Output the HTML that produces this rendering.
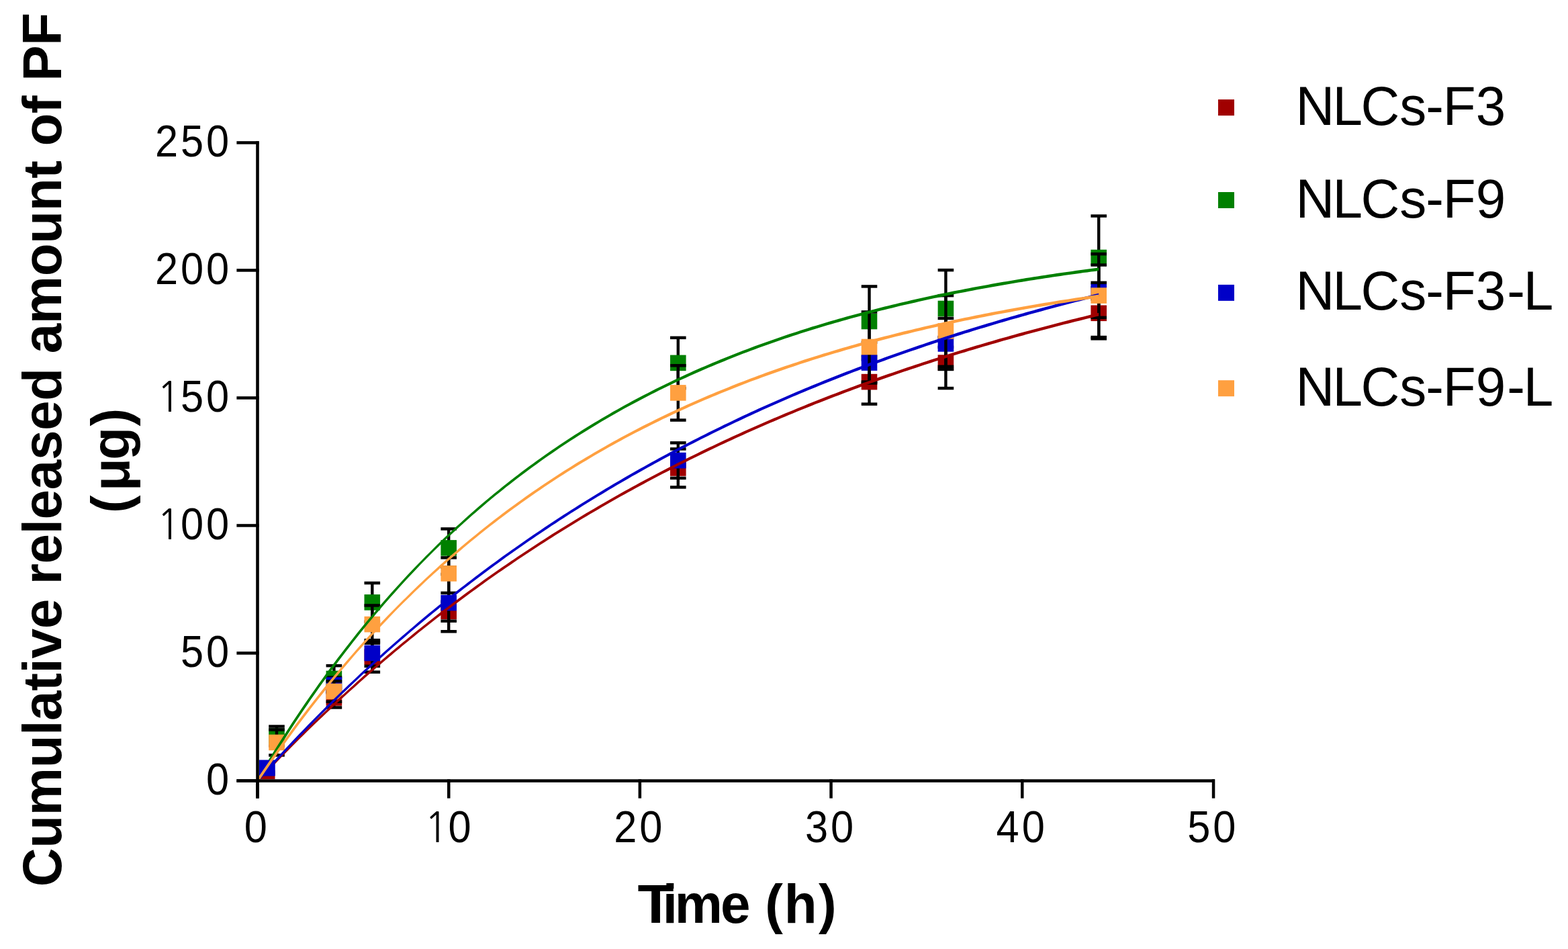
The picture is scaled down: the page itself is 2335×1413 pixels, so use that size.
<!DOCTYPE html>
<html><head><meta charset="utf-8"><title>Cumulative release</title>
<style>html,body{margin:0;padding:0;background:#fff;}body{width:2335px;height:1413px;overflow:hidden;}svg{display:block;}</style>
</head><body>
<svg width="2335" height="1413" viewBox="0 0 2335 1413">
<defs><clipPath id="plot"><rect x="383" y="0" width="1500" height="1160.3"/></clipPath></defs>
<g clip-path="url(#plot)">
<rect x="385.9" y="1146.9" width="23.6" height="23.6" fill="#a00000"/>
<rect x="495.2" y="1024.6" width="4.4" height="28.9" fill="#000"/>
<rect x="485.6" y="1022.3" width="23.6" height="4.5" fill="#000"/>
<rect x="485.6" y="1051.2" width="23.6" height="4.5" fill="#000"/>
<rect x="485.6" y="1027.2" width="23.6" height="23.6" fill="#a00000"/>
<rect x="552.1" y="955.8" width="4.4" height="44.8" fill="#000"/>
<rect x="542.5" y="953.5" width="23.6" height="4.5" fill="#000"/>
<rect x="542.5" y="998.4" width="23.6" height="4.5" fill="#000"/>
<rect x="542.5" y="966.4" width="23.6" height="23.6" fill="#a00000"/>
<rect x="666.0" y="895.7" width="4.4" height="28.9" fill="#000"/>
<rect x="656.4" y="893.5" width="23.6" height="4.5" fill="#000"/>
<rect x="656.4" y="922.4" width="23.6" height="4.5" fill="#000"/>
<rect x="656.4" y="898.4" width="23.6" height="23.6" fill="#a00000"/>
<rect x="1007.6" y="668.5" width="4.4" height="57.0" fill="#000"/>
<rect x="998.0" y="666.2" width="23.6" height="4.5" fill="#000"/>
<rect x="998.0" y="723.2" width="23.6" height="4.5" fill="#000"/>
<rect x="998.0" y="685.2" width="23.6" height="23.6" fill="#a00000"/>
<rect x="1292.3" y="535.5" width="4.4" height="66.1" fill="#000"/>
<rect x="1282.7" y="533.2" width="23.6" height="4.5" fill="#000"/>
<rect x="1282.7" y="599.4" width="23.6" height="4.5" fill="#000"/>
<rect x="1282.7" y="556.8" width="23.6" height="23.6" fill="#a00000"/>
<rect x="1406.2" y="502.1" width="4.4" height="76.0" fill="#000"/>
<rect x="1396.6" y="499.8" width="23.6" height="4.5" fill="#000"/>
<rect x="1396.6" y="575.8" width="23.6" height="4.5" fill="#000"/>
<rect x="1396.6" y="528.3" width="23.6" height="23.6" fill="#a00000"/>
<rect x="1634.0" y="428.3" width="4.4" height="76.0" fill="#000"/>
<rect x="1624.4" y="426.1" width="23.6" height="4.5" fill="#000"/>
<rect x="1624.4" y="502.1" width="23.6" height="4.5" fill="#000"/>
<rect x="1624.4" y="454.5" width="23.6" height="23.6" fill="#a00000"/>
<rect x="409.8" y="1081.6" width="4.4" height="28.9" fill="#000"/>
<rect x="400.2" y="1079.3" width="23.6" height="4.5" fill="#000"/>
<rect x="400.2" y="1108.2" width="23.6" height="4.5" fill="#000"/>
<rect x="400.2" y="1084.2" width="23.6" height="23.6" fill="#008000"/>
<rect x="495.2" y="991.1" width="4.4" height="38.8" fill="#000"/>
<rect x="485.6" y="988.9" width="23.6" height="4.5" fill="#000"/>
<rect x="485.6" y="1027.6" width="23.6" height="4.5" fill="#000"/>
<rect x="485.6" y="998.7" width="23.6" height="23.6" fill="#008000"/>
<rect x="552.1" y="868.0" width="4.4" height="57.8" fill="#000"/>
<rect x="542.5" y="865.8" width="23.6" height="4.5" fill="#000"/>
<rect x="542.5" y="923.5" width="23.6" height="4.5" fill="#000"/>
<rect x="542.5" y="885.1" width="23.6" height="23.6" fill="#008000"/>
<rect x="666.0" y="787.4" width="4.4" height="57.0" fill="#000"/>
<rect x="656.4" y="785.2" width="23.6" height="4.5" fill="#000"/>
<rect x="656.4" y="842.2" width="23.6" height="4.5" fill="#000"/>
<rect x="656.4" y="804.1" width="23.6" height="23.6" fill="#008000"/>
<rect x="1007.6" y="502.8" width="4.4" height="75.2" fill="#000"/>
<rect x="998.0" y="500.6" width="23.6" height="4.5" fill="#000"/>
<rect x="998.0" y="575.8" width="23.6" height="4.5" fill="#000"/>
<rect x="998.0" y="528.6" width="23.6" height="23.6" fill="#008000"/>
<rect x="1292.3" y="426.4" width="4.4" height="104.1" fill="#000"/>
<rect x="1282.7" y="424.2" width="23.6" height="4.5" fill="#000"/>
<rect x="1282.7" y="528.3" width="23.6" height="4.5" fill="#000"/>
<rect x="1282.7" y="466.7" width="23.6" height="23.6" fill="#008000"/>
<rect x="1406.2" y="402.1" width="4.4" height="114.8" fill="#000"/>
<rect x="1396.6" y="399.9" width="23.6" height="4.5" fill="#000"/>
<rect x="1396.6" y="514.6" width="23.6" height="4.5" fill="#000"/>
<rect x="1396.6" y="447.7" width="23.6" height="23.6" fill="#008000"/>
<rect x="1634.0" y="321.6" width="4.4" height="123.9" fill="#000"/>
<rect x="1624.4" y="319.3" width="23.6" height="4.5" fill="#000"/>
<rect x="1624.4" y="443.2" width="23.6" height="4.5" fill="#000"/>
<rect x="1624.4" y="371.7" width="23.6" height="23.6" fill="#008000"/>
<rect x="385.9" y="1131.7" width="23.6" height="23.6" fill="#0000c8"/>
<rect x="495.2" y="1008.6" width="4.4" height="22.8" fill="#000"/>
<rect x="485.6" y="1006.4" width="23.6" height="4.5" fill="#000"/>
<rect x="485.6" y="1029.2" width="23.6" height="4.5" fill="#000"/>
<rect x="485.6" y="1008.2" width="23.6" height="23.6" fill="#0000c8"/>
<rect x="552.1" y="953.1" width="4.4" height="38.8" fill="#000"/>
<rect x="542.5" y="950.9" width="23.6" height="4.5" fill="#000"/>
<rect x="542.5" y="989.6" width="23.6" height="4.5" fill="#000"/>
<rect x="542.5" y="960.7" width="23.6" height="23.6" fill="#0000c8"/>
<rect x="666.0" y="855.1" width="4.4" height="85.1" fill="#000"/>
<rect x="656.4" y="852.8" width="23.6" height="4.5" fill="#000"/>
<rect x="656.4" y="938.0" width="23.6" height="4.5" fill="#000"/>
<rect x="656.4" y="885.8" width="23.6" height="23.6" fill="#0000c8"/>
<rect x="1007.6" y="659.4" width="4.4" height="52.4" fill="#000"/>
<rect x="998.0" y="657.1" width="23.6" height="4.5" fill="#000"/>
<rect x="998.0" y="709.6" width="23.6" height="4.5" fill="#000"/>
<rect x="998.0" y="673.8" width="23.6" height="23.6" fill="#0000c8"/>
<rect x="1292.3" y="509.7" width="4.4" height="60.8" fill="#000"/>
<rect x="1282.7" y="507.4" width="23.6" height="4.5" fill="#000"/>
<rect x="1282.7" y="568.2" width="23.6" height="4.5" fill="#000"/>
<rect x="1282.7" y="528.3" width="23.6" height="23.6" fill="#0000c8"/>
<rect x="1406.2" y="473.9" width="4.4" height="76.0" fill="#000"/>
<rect x="1396.6" y="471.7" width="23.6" height="4.5" fill="#000"/>
<rect x="1396.6" y="547.7" width="23.6" height="4.5" fill="#000"/>
<rect x="1396.6" y="500.1" width="23.6" height="23.6" fill="#0000c8"/>
<rect x="1634.0" y="394.5" width="4.4" height="78.3" fill="#000"/>
<rect x="1624.4" y="392.3" width="23.6" height="4.5" fill="#000"/>
<rect x="1624.4" y="470.6" width="23.6" height="4.5" fill="#000"/>
<rect x="1624.4" y="421.9" width="23.6" height="23.6" fill="#0000c8"/>
<rect x="409.8" y="1086.5" width="4.4" height="38.0" fill="#000"/>
<rect x="400.2" y="1084.2" width="23.6" height="4.5" fill="#000"/>
<rect x="400.2" y="1122.2" width="23.6" height="4.5" fill="#000"/>
<rect x="400.2" y="1093.7" width="23.6" height="23.6" fill="#ffa040"/>
<rect x="495.2" y="1014.3" width="4.4" height="30.4" fill="#000"/>
<rect x="485.6" y="1012.0" width="23.6" height="4.5" fill="#000"/>
<rect x="485.6" y="1042.5" width="23.6" height="4.5" fill="#000"/>
<rect x="485.6" y="1017.7" width="23.6" height="23.6" fill="#ffa040"/>
<rect x="552.1" y="901.4" width="4.4" height="56.2" fill="#000"/>
<rect x="542.5" y="899.2" width="23.6" height="4.5" fill="#000"/>
<rect x="542.5" y="955.4" width="23.6" height="4.5" fill="#000"/>
<rect x="542.5" y="917.8" width="23.6" height="23.6" fill="#ffa040"/>
<rect x="666.0" y="830.4" width="4.4" height="52.4" fill="#000"/>
<rect x="656.4" y="828.1" width="23.6" height="4.5" fill="#000"/>
<rect x="656.4" y="880.6" width="23.6" height="4.5" fill="#000"/>
<rect x="656.4" y="842.1" width="23.6" height="23.6" fill="#ffa040"/>
<rect x="1007.6" y="544.2" width="4.4" height="81.3" fill="#000"/>
<rect x="998.0" y="542.0" width="23.6" height="4.5" fill="#000"/>
<rect x="998.0" y="623.3" width="23.6" height="4.5" fill="#000"/>
<rect x="998.0" y="573.1" width="23.6" height="23.6" fill="#ffa040"/>
<rect x="1292.3" y="464.4" width="4.4" height="104.1" fill="#000"/>
<rect x="1282.7" y="462.2" width="23.6" height="4.5" fill="#000"/>
<rect x="1282.7" y="566.3" width="23.6" height="4.5" fill="#000"/>
<rect x="1282.7" y="504.7" width="23.6" height="23.6" fill="#ffa040"/>
<rect x="1406.2" y="440.1" width="4.4" height="105.6" fill="#000"/>
<rect x="1396.6" y="437.9" width="23.6" height="4.5" fill="#000"/>
<rect x="1396.6" y="543.5" width="23.6" height="4.5" fill="#000"/>
<rect x="1396.6" y="481.1" width="23.6" height="23.6" fill="#ffa040"/>
<rect x="1634.0" y="378.2" width="4.4" height="123.9" fill="#000"/>
<rect x="1624.4" y="375.9" width="23.6" height="4.5" fill="#000"/>
<rect x="1624.4" y="499.8" width="23.6" height="4.5" fill="#000"/>
<rect x="1624.4" y="428.3" width="23.6" height="23.6" fill="#ffa040"/>
<rect x="1624.4" y="418.6" width="23.6" height="4.5" fill="#000"/>
</g>
<g clip-path="url(#plot)">
<polygon fill="#a00000" points="383.5,1160.0 389.2,1154.0 394.9,1148.0 400.6,1142.0 406.3,1136.1 412.0,1130.2 417.7,1124.4 423.4,1118.6 429.1,1112.8 434.7,1107.1 440.4,1101.4 446.1,1095.7 451.8,1090.1 457.5,1084.5 463.2,1079.0 468.9,1073.5 474.6,1068.0 480.3,1062.6 486.0,1057.2 491.7,1051.8 497.4,1046.5 503.1,1041.2 508.8,1035.9 514.5,1030.7 520.2,1025.5 525.9,1020.4 531.5,1015.3 537.2,1010.2 542.9,1005.1 548.6,1000.1 554.3,995.2 560.0,990.2 565.7,985.3 571.4,980.4 577.1,975.6 582.8,970.8 588.5,966.0 594.2,961.3 599.9,956.5 605.6,951.9 611.3,947.2 617.0,942.6 622.6,938.0 628.3,933.4 634.0,928.9 639.7,924.4 645.4,920.0 651.1,915.5 656.8,911.1 662.5,906.8 668.2,902.4 673.9,898.1 679.6,893.8 685.3,889.6 691.0,885.3 696.7,881.1 702.4,877.0 708.1,872.8 713.8,868.7 719.4,864.6 725.1,860.5 730.8,856.5 736.5,852.5 742.2,848.5 747.9,844.6 753.6,840.7 759.3,836.8 765.0,832.9 770.7,829.0 776.4,825.2 782.1,821.4 787.8,817.7 793.5,813.9 799.2,810.2 804.9,806.5 810.5,802.9 816.2,799.2 821.9,795.6 827.6,792.0 833.3,788.4 839.0,784.9 844.7,781.4 850.4,777.9 856.1,774.4 861.8,771.0 867.5,767.5 873.2,764.1 878.9,760.7 884.6,757.4 890.3,754.1 896.0,750.7 901.7,747.5 907.3,744.2 913.0,740.9 918.7,737.7 924.4,734.5 930.1,731.3 935.8,728.2 941.5,725.1 947.2,721.9 952.9,718.8 958.6,715.8 964.3,712.7 970.0,709.7 975.7,706.7 981.4,703.7 987.1,700.7 992.8,697.8 998.5,694.8 1004.1,691.9 1009.8,689.0 1015.5,686.2 1021.2,683.3 1026.9,680.5 1032.6,677.7 1038.3,674.9 1044.0,672.1 1049.7,669.3 1055.4,666.6 1061.1,663.9 1066.8,661.2 1072.5,658.5 1078.2,655.8 1083.9,653.2 1089.6,650.6 1095.2,648.0 1100.9,645.4 1106.6,642.8 1112.3,640.2 1118.0,637.7 1123.7,635.2 1129.4,632.7 1135.1,630.2 1140.8,627.7 1146.5,625.2 1152.2,622.8 1157.9,620.4 1163.6,618.0 1169.3,615.6 1175.0,613.2 1180.7,610.9 1186.4,608.5 1192.0,606.2 1197.7,603.9 1203.4,601.6 1209.1,599.3 1214.8,597.0 1220.5,594.8 1226.2,592.6 1231.9,590.3 1237.6,588.1 1243.3,586.0 1249.0,583.8 1254.7,581.6 1260.4,579.5 1266.1,577.3 1271.8,575.2 1277.5,573.1 1283.2,571.0 1288.8,569.0 1294.5,566.9 1300.2,564.9 1305.9,562.8 1311.6,560.8 1317.3,558.8 1323.0,556.8 1328.7,554.9 1334.4,552.9 1340.1,550.9 1345.8,549.0 1351.5,547.1 1357.2,545.2 1362.9,543.3 1368.6,541.4 1374.3,539.5 1379.9,537.7 1385.6,535.8 1391.3,534.0 1397.0,532.2 1402.7,530.4 1408.4,528.6 1414.1,526.8 1419.8,525.0 1425.5,523.2 1431.2,521.5 1436.9,519.8 1442.6,518.0 1448.3,516.3 1454.0,514.6 1459.7,512.9 1465.4,511.2 1471.1,509.6 1476.7,507.9 1482.4,506.3 1488.1,504.6 1493.8,503.0 1499.5,501.4 1505.2,499.8 1510.9,498.2 1516.6,496.6 1522.3,495.1 1528.0,493.5 1533.7,492.0 1539.4,490.4 1545.1,488.9 1550.8,487.4 1556.5,485.9 1562.2,484.4 1567.9,482.9 1573.5,481.4 1579.2,480.0 1584.9,478.5 1590.6,477.1 1596.3,475.6 1602.0,474.2 1607.7,472.8 1613.4,471.4 1619.1,470.0 1624.8,468.6 1630.5,467.2 1636.2,465.8 1636.2,470.4 1630.5,471.8 1624.8,473.2 1619.1,474.6 1613.4,476.0 1607.7,477.4 1602.0,478.8 1596.3,480.2 1590.6,481.7 1584.9,483.1 1579.2,484.6 1573.5,486.0 1567.9,487.5 1562.2,489.0 1556.5,490.5 1550.8,492.0 1545.1,493.5 1539.4,495.0 1533.7,496.6 1528.0,498.1 1522.3,499.7 1516.6,501.2 1510.9,502.8 1505.2,504.4 1499.5,506.0 1493.8,507.6 1488.1,509.2 1482.4,510.9 1476.7,512.5 1471.1,514.2 1465.4,515.8 1459.7,517.5 1454.0,519.2 1448.3,520.9 1442.6,522.6 1436.9,524.4 1431.2,526.1 1425.5,527.8 1419.8,529.6 1414.1,531.4 1408.4,533.2 1402.7,535.0 1397.0,536.8 1391.3,538.6 1385.6,540.4 1379.9,542.3 1374.3,544.1 1368.6,546.0 1362.9,547.9 1357.2,549.8 1351.5,551.7 1345.8,553.6 1340.1,555.5 1334.4,557.5 1328.7,559.5 1323.0,561.4 1317.3,563.4 1311.6,565.4 1305.9,567.4 1300.2,569.5 1294.5,571.5 1288.8,573.6 1283.2,575.6 1277.5,577.7 1271.8,579.8 1266.1,581.9 1260.4,584.1 1254.7,586.2 1249.0,588.4 1243.3,590.6 1237.6,592.7 1231.9,594.9 1226.2,597.2 1220.5,599.4 1214.8,601.6 1209.1,603.9 1203.4,606.2 1197.7,608.5 1192.0,610.8 1186.4,613.1 1180.7,615.5 1175.0,617.8 1169.3,620.2 1163.6,622.6 1157.9,625.0 1152.2,627.4 1146.5,629.8 1140.8,632.3 1135.1,634.8 1129.4,637.3 1123.7,639.8 1118.0,642.3 1112.3,644.8 1106.6,647.4 1100.9,650.0 1095.2,652.6 1089.6,655.2 1083.9,657.8 1078.2,660.4 1072.5,663.1 1066.8,665.8 1061.1,668.5 1055.4,671.2 1049.7,673.9 1044.0,676.7 1038.3,679.5 1032.6,682.3 1026.9,685.1 1021.2,687.9 1015.5,690.8 1009.8,693.6 1004.1,696.5 998.5,699.4 992.8,702.4 987.1,705.3 981.4,708.3 975.7,711.3 970.0,714.3 964.3,717.3 958.6,720.4 952.9,723.4 947.2,726.5 941.5,729.7 935.8,732.8 930.1,735.9 924.4,739.1 918.7,742.3 913.0,745.5 907.3,748.8 901.7,752.1 896.0,755.3 890.3,758.7 884.6,762.0 878.9,765.3 873.2,768.7 867.5,772.1 861.8,775.6 856.1,779.0 850.4,782.5 844.7,786.0 839.0,789.5 833.3,793.0 827.6,796.6 821.9,800.2 816.2,803.8 810.5,807.5 804.9,811.1 799.2,814.8 793.5,818.5 787.8,822.3 782.1,826.0 776.4,829.8 770.7,833.6 765.0,837.5 759.3,841.4 753.6,845.3 747.9,849.2 742.2,853.1 736.5,857.1 730.8,861.1 725.1,865.1 719.4,869.2 713.8,873.3 708.1,877.4 702.4,881.6 696.7,885.7 691.0,889.9 685.3,894.2 679.6,898.4 673.9,902.7 668.2,907.0 662.5,911.4 656.8,915.7 651.1,920.1 645.4,924.6 639.7,929.0 634.0,933.5 628.3,938.0 622.6,942.6 617.0,947.2 611.3,951.8 605.6,956.5 599.9,961.1 594.2,965.9 588.5,970.6 582.8,975.4 577.1,980.2 571.4,985.0 565.7,989.9 560.0,994.8 554.3,999.8 548.6,1004.7 542.9,1009.7 537.2,1014.8 531.5,1019.9 525.9,1025.0 520.2,1030.1 514.5,1035.3 508.8,1040.5 503.1,1045.8 497.4,1051.1 491.7,1056.4 486.0,1061.8 480.3,1067.2 474.6,1072.6 468.9,1078.1 463.2,1083.6 457.5,1089.1 451.8,1094.7 446.1,1100.3 440.4,1106.0 434.7,1111.7 429.1,1117.5 423.4,1123.3 417.7,1129.1 412.0,1135.0 406.3,1140.9 400.6,1146.8 394.9,1152.8 389.2,1158.9 383.5,1165.0"/>
<polygon fill="#008000" points="383.5,1158.6 389.2,1149.0 394.9,1139.6 400.6,1130.3 406.3,1121.0 412.0,1111.9 417.7,1102.9 423.4,1094.0 429.1,1085.2 434.7,1076.5 440.4,1067.9 446.1,1059.4 451.8,1051.0 457.5,1042.7 463.2,1034.5 468.9,1026.4 474.6,1018.3 480.3,1010.4 486.0,1002.6 491.7,994.8 497.4,987.2 503.1,979.6 508.8,972.2 514.5,964.8 520.2,957.5 525.9,950.3 531.5,943.1 537.2,936.1 542.9,929.1 548.6,922.2 554.3,915.4 560.0,908.7 565.7,902.1 571.4,895.5 577.1,889.0 582.8,882.6 588.5,876.2 594.2,870.0 599.9,863.8 605.6,857.6 611.3,851.6 617.0,845.6 622.6,839.7 628.3,833.9 634.0,828.1 639.7,822.4 645.4,816.7 651.1,811.1 656.8,805.6 662.5,800.1 668.2,794.7 673.9,789.4 679.6,784.1 685.3,778.9 691.0,773.7 696.7,768.6 702.4,763.5 708.1,758.6 713.8,753.6 719.4,748.8 725.1,744.0 730.8,739.2 736.5,734.5 742.2,729.9 747.9,725.3 753.6,720.7 759.3,716.3 765.0,711.8 770.7,707.5 776.4,703.1 782.1,698.8 787.8,694.6 793.5,690.4 799.2,686.3 804.9,682.2 810.5,678.2 816.2,674.2 821.9,670.3 827.6,666.4 833.3,662.5 839.0,658.7 844.7,655.0 850.4,651.2 856.1,647.6 861.8,643.9 867.5,640.3 873.2,636.8 878.9,633.3 884.6,629.8 890.3,626.4 896.0,623.0 901.7,619.7 907.3,616.4 913.0,613.1 918.7,609.9 924.4,606.7 930.1,603.5 935.8,600.4 941.5,597.3 947.2,594.3 952.9,591.3 958.6,588.3 964.3,585.4 970.0,582.5 975.7,579.6 981.4,576.7 987.1,573.9 992.8,571.2 998.5,568.4 1004.1,565.7 1009.8,563.0 1015.5,560.4 1021.2,557.8 1026.9,555.2 1032.6,552.6 1038.3,550.1 1044.0,547.6 1049.7,545.2 1055.4,542.7 1061.1,540.3 1066.8,537.9 1072.5,535.6 1078.2,533.3 1083.9,531.0 1089.6,528.7 1095.2,526.4 1100.9,524.2 1106.6,522.0 1112.3,519.9 1118.0,517.7 1123.7,515.6 1129.4,513.5 1135.1,511.4 1140.8,509.4 1146.5,507.4 1152.2,505.4 1157.9,503.4 1163.6,501.5 1169.3,499.5 1175.0,497.6 1180.7,495.7 1186.4,493.9 1192.0,492.0 1197.7,490.2 1203.4,488.4 1209.1,486.6 1214.8,484.9 1220.5,483.2 1226.2,481.4 1231.9,479.7 1237.6,478.1 1243.3,476.4 1249.0,474.8 1254.7,473.2 1260.4,471.6 1266.1,470.0 1271.8,468.4 1277.5,466.9 1283.2,465.4 1288.8,463.8 1294.5,462.4 1300.2,460.9 1305.9,459.4 1311.6,458.0 1317.3,456.6 1323.0,455.2 1328.7,453.8 1334.4,452.4 1340.1,451.0 1345.8,449.7 1351.5,448.4 1357.2,447.1 1362.9,445.8 1368.6,444.5 1374.3,443.2 1379.9,442.0 1385.6,440.7 1391.3,439.5 1397.0,438.3 1402.7,437.1 1408.4,435.9 1414.1,434.8 1419.8,433.6 1425.5,432.5 1431.2,431.4 1436.9,430.3 1442.6,429.2 1448.3,428.1 1454.0,427.0 1459.7,425.9 1465.4,424.9 1471.1,423.9 1476.7,422.8 1482.4,421.8 1488.1,420.8 1493.8,419.8 1499.5,418.9 1505.2,417.9 1510.9,416.9 1516.6,416.0 1522.3,415.1 1528.0,414.1 1533.7,413.2 1539.4,412.3 1545.1,411.4 1550.8,410.6 1556.5,409.7 1562.2,408.8 1567.9,408.0 1573.5,407.1 1579.2,406.3 1584.9,405.5 1590.6,404.7 1596.3,403.9 1602.0,403.1 1607.7,402.3 1613.4,401.5 1619.1,400.8 1624.8,400.0 1630.5,399.3 1636.2,398.5 1636.2,403.1 1630.5,403.9 1624.8,404.6 1619.1,405.4 1613.4,406.1 1607.7,406.9 1602.0,407.7 1596.3,408.5 1590.6,409.3 1584.9,410.1 1579.2,410.9 1573.5,411.7 1567.9,412.6 1562.2,413.4 1556.5,414.3 1550.8,415.2 1545.1,416.0 1539.4,416.9 1533.7,417.8 1528.0,418.7 1522.3,419.7 1516.6,420.6 1510.9,421.5 1505.2,422.5 1499.5,423.5 1493.8,424.4 1488.1,425.4 1482.4,426.4 1476.7,427.4 1471.1,428.5 1465.4,429.5 1459.7,430.5 1454.0,431.6 1448.3,432.7 1442.6,433.8 1436.9,434.9 1431.2,436.0 1425.5,437.1 1419.8,438.2 1414.1,439.4 1408.4,440.5 1402.7,441.7 1397.0,442.9 1391.3,444.1 1385.6,445.3 1379.9,446.6 1374.3,447.8 1368.6,449.1 1362.9,450.4 1357.2,451.7 1351.5,453.0 1345.8,454.3 1340.1,455.6 1334.4,457.0 1328.7,458.4 1323.0,459.8 1317.3,461.2 1311.6,462.6 1305.9,464.0 1300.2,465.5 1294.5,467.0 1288.8,468.4 1283.2,470.0 1277.5,471.5 1271.8,473.0 1266.1,474.6 1260.4,476.2 1254.7,477.8 1249.0,479.4 1243.3,481.0 1237.6,482.7 1231.9,484.3 1226.2,486.0 1220.5,487.8 1214.8,489.5 1209.1,491.2 1203.4,493.0 1197.7,494.8 1192.0,496.6 1186.4,498.5 1180.7,500.3 1175.0,502.2 1169.3,504.1 1163.6,506.1 1157.9,508.0 1152.2,510.0 1146.5,512.0 1140.8,514.0 1135.1,516.0 1129.4,518.1 1123.7,520.2 1118.0,522.3 1112.3,524.5 1106.6,526.6 1100.9,528.8 1095.2,531.0 1089.6,533.3 1083.9,535.6 1078.2,537.9 1072.5,540.2 1066.8,542.5 1061.1,544.9 1055.4,547.3 1049.7,549.8 1044.0,552.2 1038.3,554.7 1032.6,557.2 1026.9,559.8 1021.2,562.4 1015.5,565.0 1009.8,567.6 1004.1,570.3 998.5,573.0 992.8,575.8 987.1,578.5 981.4,581.3 975.7,584.2 970.0,587.1 964.3,590.0 958.6,592.9 952.9,595.9 947.2,598.9 941.5,601.9 935.8,605.0 930.1,608.1 924.4,611.3 918.7,614.5 913.0,617.7 907.3,621.0 901.7,624.3 896.0,627.6 890.3,631.0 884.6,634.4 878.9,637.9 873.2,641.4 867.5,644.9 861.8,648.5 856.1,652.2 850.4,655.8 844.7,659.6 839.0,663.3 833.3,667.1 827.6,671.0 821.9,674.9 816.2,678.8 810.5,682.8 804.9,686.8 799.2,690.9 793.5,695.0 787.8,699.2 782.1,703.4 776.4,707.7 770.7,712.1 765.0,716.4 759.3,720.9 753.6,725.3 747.9,729.9 742.2,734.5 736.5,739.1 730.8,743.8 725.1,748.6 719.4,753.4 713.8,758.2 708.1,763.2 702.4,768.1 696.7,773.2 691.0,778.3 685.3,783.5 679.6,788.7 673.9,794.0 668.2,799.3 662.5,804.7 656.8,810.2 651.1,815.7 645.4,821.3 639.7,827.0 634.0,832.7 628.3,838.6 622.6,844.5 617.0,850.4 611.3,856.5 605.6,862.6 599.9,868.8 594.2,875.0 588.5,881.4 582.8,887.8 577.1,894.2 571.4,900.8 565.7,907.4 560.0,914.1 554.3,920.9 548.6,927.8 542.9,934.7 537.2,941.8 531.5,948.9 525.9,956.1 520.2,963.4 514.5,970.7 508.8,978.2 503.1,985.7 497.4,993.4 491.7,1001.1 486.0,1008.9 480.3,1016.8 474.6,1024.8 468.9,1032.9 463.2,1041.1 457.5,1049.4 451.8,1057.8 446.1,1066.2 440.4,1074.8 434.7,1083.5 429.1,1092.3 423.4,1101.2 417.7,1110.2 412.0,1119.3 406.3,1128.5 400.6,1137.8 394.9,1147.2 389.2,1156.8 383.5,1166.4"/>
<polygon fill="#0000c8" points="383.5,1159.9 389.2,1153.6 394.9,1147.2 400.6,1141.0 406.3,1134.7 412.0,1128.5 417.7,1122.4 423.4,1116.3 429.1,1110.2 434.7,1104.2 440.4,1098.2 446.1,1092.3 451.8,1086.4 457.5,1080.5 463.2,1074.7 468.9,1069.0 474.6,1063.2 480.3,1057.5 486.0,1051.8 491.7,1046.2 497.4,1040.6 503.1,1035.1 508.8,1029.5 514.5,1024.1 520.2,1018.6 525.9,1013.2 531.5,1007.9 537.2,1002.5 542.9,997.2 548.6,992.0 554.3,986.8 560.0,981.6 565.7,976.4 571.4,971.3 577.1,966.2 582.8,961.2 588.5,956.2 594.2,951.2 599.9,946.3 605.6,941.4 611.3,936.5 617.0,931.7 622.6,926.8 628.3,922.1 634.0,917.3 639.7,912.6 645.4,908.0 651.1,903.3 656.8,898.7 662.5,894.1 668.2,889.6 673.9,885.1 679.6,880.6 685.3,876.1 691.0,871.7 696.7,867.3 702.4,863.0 708.1,858.6 713.8,854.3 719.4,850.1 725.1,845.8 730.8,841.6 736.5,837.4 742.2,833.3 747.9,829.1 753.6,825.0 759.3,821.0 765.0,816.9 770.7,812.9 776.4,808.9 782.1,805.0 787.8,801.0 793.5,797.1 799.2,793.2 804.9,789.4 810.5,785.6 816.2,781.8 821.9,778.0 827.6,774.3 833.3,770.5 839.0,766.8 844.7,763.2 850.4,759.5 856.1,755.9 861.8,752.3 867.5,748.7 873.2,745.2 878.9,741.7 884.6,738.2 890.3,734.7 896.0,731.3 901.7,727.8 907.3,724.4 913.0,721.1 918.7,717.7 924.4,714.4 930.1,711.1 935.8,707.8 941.5,704.5 947.2,701.3 952.9,698.1 958.6,694.9 964.3,691.7 970.0,688.6 975.7,685.4 981.4,682.3 987.1,679.2 992.8,676.2 998.5,673.1 1004.1,670.1 1009.8,667.1 1015.5,664.1 1021.2,661.2 1026.9,658.2 1032.6,655.3 1038.3,652.4 1044.0,649.5 1049.7,646.7 1055.4,643.8 1061.1,641.0 1066.8,638.2 1072.5,635.4 1078.2,632.6 1083.9,629.9 1089.6,627.2 1095.2,624.5 1100.9,621.8 1106.6,619.1 1112.3,616.5 1118.0,613.8 1123.7,611.2 1129.4,608.6 1135.1,606.0 1140.8,603.5 1146.5,600.9 1152.2,598.4 1157.9,595.9 1163.6,593.4 1169.3,590.9 1175.0,588.5 1180.7,586.0 1186.4,583.6 1192.0,581.2 1197.7,578.8 1203.4,576.5 1209.1,574.1 1214.8,571.8 1220.5,569.4 1226.2,567.1 1231.9,564.8 1237.6,562.6 1243.3,560.3 1249.0,558.1 1254.7,555.8 1260.4,553.6 1266.1,551.4 1271.8,549.2 1277.5,547.1 1283.2,544.9 1288.8,542.8 1294.5,540.6 1300.2,538.5 1305.9,536.4 1311.6,534.4 1317.3,532.3 1323.0,530.2 1328.7,528.2 1334.4,526.2 1340.1,524.2 1345.8,522.2 1351.5,520.2 1357.2,518.2 1362.9,516.3 1368.6,514.3 1374.3,512.4 1379.9,510.5 1385.6,508.6 1391.3,506.7 1397.0,504.8 1402.7,502.9 1408.4,501.1 1414.1,499.3 1419.8,497.4 1425.5,495.6 1431.2,493.8 1436.9,492.0 1442.6,490.3 1448.3,488.5 1454.0,486.7 1459.7,485.0 1465.4,483.3 1471.1,481.6 1476.7,479.9 1482.4,478.2 1488.1,476.5 1493.8,474.8 1499.5,473.2 1505.2,471.5 1510.9,469.9 1516.6,468.3 1522.3,466.7 1528.0,465.1 1533.7,463.5 1539.4,461.9 1545.1,460.3 1550.8,458.8 1556.5,457.2 1562.2,455.7 1567.9,454.2 1573.5,452.6 1579.2,451.1 1584.9,449.7 1590.6,448.2 1596.3,446.7 1602.0,445.2 1607.7,443.8 1613.4,442.3 1619.1,440.9 1624.8,439.5 1630.5,438.1 1636.2,436.7 1636.2,441.3 1630.5,442.7 1624.8,444.1 1619.1,445.5 1613.4,446.9 1607.7,448.4 1602.0,449.8 1596.3,451.3 1590.6,452.8 1584.9,454.3 1579.2,455.7 1573.5,457.2 1567.9,458.8 1562.2,460.3 1556.5,461.8 1550.8,463.4 1545.1,464.9 1539.4,466.5 1533.7,468.1 1528.0,469.7 1522.3,471.3 1516.6,472.9 1510.9,474.5 1505.2,476.1 1499.5,477.8 1493.8,479.4 1488.1,481.1 1482.4,482.8 1476.7,484.5 1471.1,486.2 1465.4,487.9 1459.7,489.6 1454.0,491.3 1448.3,493.1 1442.6,494.9 1436.9,496.6 1431.2,498.4 1425.5,500.2 1419.8,502.0 1414.1,503.9 1408.4,505.7 1402.7,507.5 1397.0,509.4 1391.3,511.3 1385.6,513.2 1379.9,515.1 1374.3,517.0 1368.6,518.9 1362.9,520.9 1357.2,522.8 1351.5,524.8 1345.8,526.8 1340.1,528.8 1334.4,530.8 1328.7,532.8 1323.0,534.8 1317.3,536.9 1311.6,539.0 1305.9,541.0 1300.2,543.1 1294.5,545.2 1288.8,547.4 1283.2,549.5 1277.5,551.7 1271.8,553.8 1266.1,556.0 1260.4,558.2 1254.7,560.4 1249.0,562.7 1243.3,564.9 1237.6,567.2 1231.9,569.4 1226.2,571.7 1220.5,574.0 1214.8,576.4 1209.1,578.7 1203.4,581.1 1197.7,583.4 1192.0,585.8 1186.4,588.2 1180.7,590.6 1175.0,593.1 1169.3,595.5 1163.6,598.0 1157.9,600.5 1152.2,603.0 1146.5,605.5 1140.8,608.1 1135.1,610.6 1129.4,613.2 1123.7,615.8 1118.0,618.4 1112.3,621.1 1106.6,623.7 1100.9,626.4 1095.2,629.1 1089.6,631.8 1083.9,634.5 1078.2,637.2 1072.5,640.0 1066.8,642.8 1061.1,645.6 1055.4,648.4 1049.7,651.3 1044.0,654.1 1038.3,657.0 1032.6,659.9 1026.9,662.8 1021.2,665.8 1015.5,668.7 1009.8,671.7 1004.1,674.7 998.5,677.7 992.8,680.8 987.1,683.8 981.4,686.9 975.7,690.0 970.0,693.2 964.3,696.3 958.6,699.5 952.9,702.7 947.2,705.9 941.5,709.1 935.8,712.4 930.1,715.7 924.4,719.0 918.7,722.3 913.0,725.7 907.3,729.0 901.7,732.4 896.0,735.9 890.3,739.3 884.6,742.8 878.9,746.3 873.2,749.8 867.5,753.3 861.8,756.9 856.1,760.5 850.4,764.1 844.7,767.8 839.0,771.4 833.3,775.1 827.6,778.9 821.9,782.6 816.2,786.4 810.5,790.2 804.9,794.0 799.2,797.8 793.5,801.7 787.8,805.6 782.1,809.6 776.4,813.5 770.7,817.5 765.0,821.5 759.3,825.6 753.6,829.6 747.9,833.7 742.2,837.9 736.5,842.0 730.8,846.2 725.1,850.4 719.4,854.7 713.8,858.9 708.1,863.2 702.4,867.6 696.7,871.9 691.0,876.3 685.3,880.7 679.6,885.2 673.9,889.7 668.2,894.2 662.5,898.7 656.8,903.3 651.1,907.9 645.4,912.6 639.7,917.2 634.0,921.9 628.3,926.7 622.6,931.4 617.0,936.3 611.3,941.1 605.6,946.0 599.9,950.9 594.2,955.8 588.5,960.8 582.8,965.8 577.1,970.8 571.4,975.9 565.7,981.0 560.0,986.2 554.3,991.4 548.6,996.6 542.9,1001.8 537.2,1007.1 531.5,1012.5 525.9,1017.8 520.2,1023.2 514.5,1028.7 508.8,1034.1 503.1,1039.7 497.4,1045.2 491.7,1050.8 486.0,1056.4 480.3,1062.1 474.6,1067.8 468.9,1073.6 463.2,1079.4 457.5,1085.3 451.8,1091.2 446.1,1097.1 440.4,1103.1 434.7,1109.1 429.1,1115.1 423.4,1121.2 417.7,1127.4 412.0,1133.5 406.3,1139.8 400.6,1146.0 394.9,1152.3 389.2,1158.7 383.5,1165.1"/>
<rect x="385.9" y="1131.7" width="23.6" height="23.6" fill="#0000c8"/>
<polygon fill="#ffa040" points="383.5,1159.1 389.2,1150.6 394.9,1142.3 400.6,1134.0 406.3,1125.8 412.0,1117.7 417.7,1109.7 423.4,1101.8 429.1,1094.0 434.7,1086.2 440.4,1078.6 446.1,1071.0 451.8,1063.5 457.5,1056.1 463.2,1048.7 468.9,1041.4 474.6,1034.2 480.3,1027.1 486.0,1020.1 491.7,1013.1 497.4,1006.2 503.1,999.4 508.8,992.7 514.5,986.0 520.2,979.4 525.9,972.9 531.5,966.4 537.2,960.0 542.9,953.7 548.6,947.4 554.3,941.2 560.0,935.1 565.7,929.0 571.4,923.1 577.1,917.1 582.8,911.3 588.5,905.4 594.2,899.7 599.9,894.0 605.6,888.4 611.3,882.8 617.0,877.2 622.6,871.8 628.3,866.4 634.0,861.0 639.7,855.7 645.4,850.5 651.1,845.3 656.8,840.1 662.5,835.1 668.2,830.0 673.9,825.1 679.6,820.2 685.3,815.3 691.0,810.5 696.7,805.7 702.4,801.0 708.1,796.4 713.8,791.7 719.4,787.2 725.1,782.7 730.8,778.2 736.5,773.8 742.2,769.4 747.9,765.1 753.6,760.8 759.3,756.6 765.0,752.4 770.7,748.3 776.4,744.2 782.1,740.1 787.8,736.1 793.5,732.1 799.2,728.2 804.9,724.3 810.5,720.5 816.2,716.7 821.9,712.9 827.6,709.2 833.3,705.5 839.0,701.8 844.7,698.2 850.4,694.7 856.1,691.1 861.8,687.6 867.5,684.2 873.2,680.8 878.9,677.4 884.6,674.0 890.3,670.7 896.0,667.5 901.7,664.2 907.3,661.0 913.0,657.8 918.7,654.7 924.4,651.6 930.1,648.5 935.8,645.5 941.5,642.5 947.2,639.5 952.9,636.6 958.6,633.6 964.3,630.8 970.0,627.9 975.7,625.1 981.4,622.3 987.1,619.5 992.8,616.8 998.5,614.1 1004.1,611.4 1009.8,608.8 1015.5,606.2 1021.2,603.6 1026.9,601.0 1032.6,598.5 1038.3,596.0 1044.0,593.5 1049.7,591.0 1055.4,588.6 1061.1,586.2 1066.8,583.8 1072.5,581.5 1078.2,579.2 1083.9,576.9 1089.6,574.6 1095.2,572.3 1100.9,570.1 1106.6,567.9 1112.3,565.7 1118.0,563.5 1123.7,561.4 1129.4,559.3 1135.1,557.2 1140.8,555.1 1146.5,553.1 1152.2,551.1 1157.9,549.1 1163.6,547.1 1169.3,545.1 1175.0,543.2 1180.7,541.3 1186.4,539.4 1192.0,537.5 1197.7,535.6 1203.4,533.8 1209.1,532.0 1214.8,530.2 1220.5,528.4 1226.2,526.6 1231.9,524.9 1237.6,523.2 1243.3,521.4 1249.0,519.8 1254.7,518.1 1260.4,516.4 1266.1,514.8 1271.8,513.2 1277.5,511.6 1283.2,510.0 1288.8,508.4 1294.5,506.9 1300.2,505.3 1305.9,503.8 1311.6,502.3 1317.3,500.8 1323.0,499.4 1328.7,497.9 1334.4,496.5 1340.1,495.1 1345.8,493.6 1351.5,492.3 1357.2,490.9 1362.9,489.5 1368.6,488.2 1374.3,486.8 1379.9,485.5 1385.6,484.2 1391.3,482.9 1397.0,481.6 1402.7,480.4 1408.4,479.1 1414.1,477.9 1419.8,476.6 1425.5,475.4 1431.2,474.2 1436.9,473.0 1442.6,471.9 1448.3,470.7 1454.0,469.6 1459.7,468.4 1465.4,467.3 1471.1,466.2 1476.7,465.1 1482.4,464.0 1488.1,462.9 1493.8,461.9 1499.5,460.8 1505.2,459.8 1510.9,458.7 1516.6,457.7 1522.3,456.7 1528.0,455.7 1533.7,454.7 1539.4,453.7 1545.1,452.7 1550.8,451.8 1556.5,450.8 1562.2,449.9 1567.9,449.0 1573.5,448.1 1579.2,447.1 1584.9,446.3 1590.6,445.4 1596.3,444.5 1602.0,443.6 1607.7,442.7 1613.4,441.9 1619.1,441.1 1624.8,440.2 1630.5,439.4 1636.2,438.6 1636.2,443.2 1630.5,444.0 1624.8,444.8 1619.1,445.7 1613.4,446.5 1607.7,447.3 1602.0,448.2 1596.3,449.1 1590.6,450.0 1584.9,450.9 1579.2,451.7 1573.5,452.7 1567.9,453.6 1562.2,454.5 1556.5,455.4 1550.8,456.4 1545.1,457.3 1539.4,458.3 1533.7,459.3 1528.0,460.3 1522.3,461.3 1516.6,462.3 1510.9,463.3 1505.2,464.4 1499.5,465.4 1493.8,466.5 1488.1,467.5 1482.4,468.6 1476.7,469.7 1471.1,470.8 1465.4,471.9 1459.7,473.0 1454.0,474.2 1448.3,475.3 1442.6,476.5 1436.9,477.6 1431.2,478.8 1425.5,480.0 1419.8,481.2 1414.1,482.5 1408.4,483.7 1402.7,485.0 1397.0,486.2 1391.3,487.5 1385.6,488.8 1379.9,490.1 1374.3,491.4 1368.6,492.8 1362.9,494.1 1357.2,495.5 1351.5,496.9 1345.8,498.2 1340.1,499.7 1334.4,501.1 1328.7,502.5 1323.0,504.0 1317.3,505.4 1311.6,506.9 1305.9,508.4 1300.2,509.9 1294.5,511.5 1288.8,513.0 1283.2,514.6 1277.5,516.2 1271.8,517.8 1266.1,519.4 1260.4,521.0 1254.7,522.7 1249.0,524.4 1243.3,526.0 1237.6,527.8 1231.9,529.5 1226.2,531.2 1220.5,533.0 1214.8,534.8 1209.1,536.6 1203.4,538.4 1197.7,540.2 1192.0,542.1 1186.4,544.0 1180.7,545.9 1175.0,547.8 1169.3,549.7 1163.6,551.7 1157.9,553.7 1152.2,555.7 1146.5,557.7 1140.8,559.7 1135.1,561.8 1129.4,563.9 1123.7,566.0 1118.0,568.1 1112.3,570.3 1106.6,572.5 1100.9,574.7 1095.2,576.9 1089.6,579.2 1083.9,581.5 1078.2,583.8 1072.5,586.1 1066.8,588.4 1061.1,590.8 1055.4,593.2 1049.7,595.6 1044.0,598.1 1038.3,600.6 1032.6,603.1 1026.9,605.6 1021.2,608.2 1015.5,610.8 1009.8,613.4 1004.1,616.0 998.5,618.7 992.8,621.4 987.1,624.1 981.4,626.9 975.7,629.7 970.0,632.5 964.3,635.4 958.6,638.2 952.9,641.2 947.2,644.1 941.5,647.1 935.8,650.1 930.1,653.1 924.4,656.2 918.7,659.3 913.0,662.4 907.3,665.6 901.7,668.8 896.0,672.1 890.3,675.3 884.6,678.6 878.9,682.0 873.2,685.4 867.5,688.8 861.8,692.2 856.1,695.7 850.4,699.3 844.7,702.8 839.0,706.4 833.3,710.1 827.6,713.8 821.9,717.5 816.2,721.3 810.5,725.1 804.9,728.9 799.2,732.8 793.5,736.7 787.8,740.7 782.1,744.7 776.4,748.8 770.7,752.9 765.0,757.0 759.3,761.2 753.6,765.4 747.9,769.7 742.2,774.0 736.5,778.4 730.8,782.8 725.1,787.3 719.4,791.8 713.8,796.3 708.1,801.0 702.4,805.6 696.7,810.3 691.0,815.1 685.3,819.9 679.6,824.8 673.9,829.7 668.2,834.6 662.5,839.7 656.8,844.7 651.1,849.9 645.4,855.1 639.7,860.3 634.0,865.6 628.3,871.0 622.6,876.4 617.0,881.8 611.3,887.4 605.6,893.0 599.9,898.6 594.2,904.3 588.5,910.1 582.8,916.0 577.1,921.9 571.4,927.9 565.7,933.9 560.0,940.1 554.3,946.2 548.6,952.5 542.9,958.8 537.2,965.2 531.5,971.6 525.9,978.1 520.2,984.7 514.5,991.4 508.8,998.1 503.1,1004.9 497.4,1011.8 491.7,1018.7 486.0,1025.8 480.3,1032.9 474.6,1040.0 468.9,1047.3 463.2,1054.6 457.5,1062.0 451.8,1069.5 446.1,1077.1 440.4,1084.8 434.7,1092.5 429.1,1100.3 423.4,1108.2 417.7,1116.2 412.0,1124.3 406.3,1132.4 400.6,1140.7 394.9,1149.0 389.2,1157.4 383.5,1165.9"/>
</g>
<g fill="#000">
<rect x="381.2" y="210.3" width="4.6" height="978.4"/>
<rect x="352.4" y="1160.3" width="1456.6" height="4.6"/>
<rect x="352.4" y="1160.2" width="33.2" height="4.5"/>
<rect x="352.4" y="970.2" width="33.2" height="4.5"/>
<rect x="352.4" y="780.2" width="33.2" height="4.5"/>
<rect x="352.4" y="590.2" width="33.2" height="4.5"/>
<rect x="352.4" y="400.2" width="33.2" height="4.5"/>
<rect x="352.4" y="210.2" width="33.2" height="4.5"/>
<rect x="381.2" y="1160.3" width="4.5" height="28.3"/>
<rect x="666.0" y="1160.3" width="4.5" height="28.3"/>
<rect x="950.6" y="1160.3" width="4.5" height="28.3"/>
<rect x="1235.3" y="1160.3" width="4.5" height="28.3"/>
<rect x="1520.0" y="1160.3" width="4.5" height="28.3"/>
<rect x="1804.8" y="1160.3" width="4.5" height="28.3"/>
</g>
<g font-family="Liberation Sans, Arial, sans-serif" font-size="66" fill="#000" transform="scale(0.93,1)">
<text y="1183.3"><tspan x="330.0">0</tspan></text>
<text y="993.3"><tspan x="289.2">5</tspan><tspan x="330.0">0</tspan></text>
<text y="803.3"><tspan x="251.3" font-family="NanumGothic, Liberation Sans, sans-serif" font-size="62">1</tspan><tspan x="289.2">0</tspan><tspan x="330.0">0</tspan></text>
<text y="613.3"><tspan x="251.3" font-family="NanumGothic, Liberation Sans, sans-serif" font-size="62">1</tspan><tspan x="289.2">5</tspan><tspan x="330.0">0</tspan></text>
<text y="423.3"><tspan x="248.3">2</tspan><tspan x="289.2">0</tspan><tspan x="330.0">0</tspan></text>
<text y="233.3"><tspan x="248.3">2</tspan><tspan x="289.2">5</tspan><tspan x="330.0">0</tspan></text>
<text y="1254.2"><tspan x="391.2">0</tspan></text>
<text y="1254.2"><tspan x="679.9" font-family="NanumGothic, Liberation Sans, sans-serif" font-size="62">1</tspan><tspan x="717.8">0</tspan></text>
<text y="1254.2"><tspan x="983.0">2</tspan><tspan x="1023.9">0</tspan></text>
<text y="1254.2"><tspan x="1289.2">3</tspan><tspan x="1330.0">0</tspan></text>
<text y="1254.2"><tspan x="1595.3">4</tspan><tspan x="1636.2">0</tspan></text>
<text y="1254.2"><tspan x="1901.4">5</tspan><tspan x="1942.3">0</tspan></text>
</g>
<g font-family="Liberation Sans, Arial, sans-serif" font-weight="bold" font-size="80" fill="#000">
<text transform="translate(91,669.5) rotate(-90) scale(1,1.03)" text-anchor="middle" textLength="1301.3" lengthAdjust="spacing">Cumulative released amount of PF</text>
<text transform="translate(192,687.4) rotate(-90)" x="-76.7 -43.7 2.65 52.9">(μg)</text>
<text transform="matrix(1,0,0,1.03,0,-41.21)" y="1373.8"><tspan x="949.6" textLength="54.1" lengthAdjust="spacingAndGlyphs">T</tspan><tspan x="986.8 1004.7 1073.05 1117.5 1139.3 1167.65 1219.1">ime (h)</tspan></text>
</g>
<rect x="1814" y="148.1" width="24" height="24" fill="#a00000"/>
<rect x="1814" y="286.0" width="24" height="24" fill="#008000"/>
<rect x="1814" y="423.9" width="24" height="24" fill="#0000c8"/>
<rect x="1814" y="566.2" width="24" height="24" fill="#ffa040"/>
<g font-family="Liberation Sans, Arial, sans-serif" font-size="80" fill="#000">
<text transform="matrix(1,0,0,1.03,0,-5.58)" x="1929.6 1984.4 2026.6 2084.15 2123.25 2148.65 2197.8" y="186.1">NLCs-F3</text>
<text transform="matrix(1,0,0,1.03,0,-9.72)" x="1929.6 1984.4 2026.6 2084.15 2123.25 2148.65 2197.8" y="324">NLCs-F9</text>
<text transform="matrix(1,0,0,1.03,0,-13.84)" x="1929.6 1984.4 2026.6 2084.15 2123.25 2148.65 2197.8 2244.35 2268.8" y="461.3">NLCs-F3-L</text>
<text transform="matrix(1,0,0,1.03,0,-18.12)" x="1929.6 1984.4 2026.6 2084.15 2123.25 2148.65 2197.8 2244.35 2268.8" y="604">NLCs-F9-L</text>
</g>
</svg>
</body></html>
